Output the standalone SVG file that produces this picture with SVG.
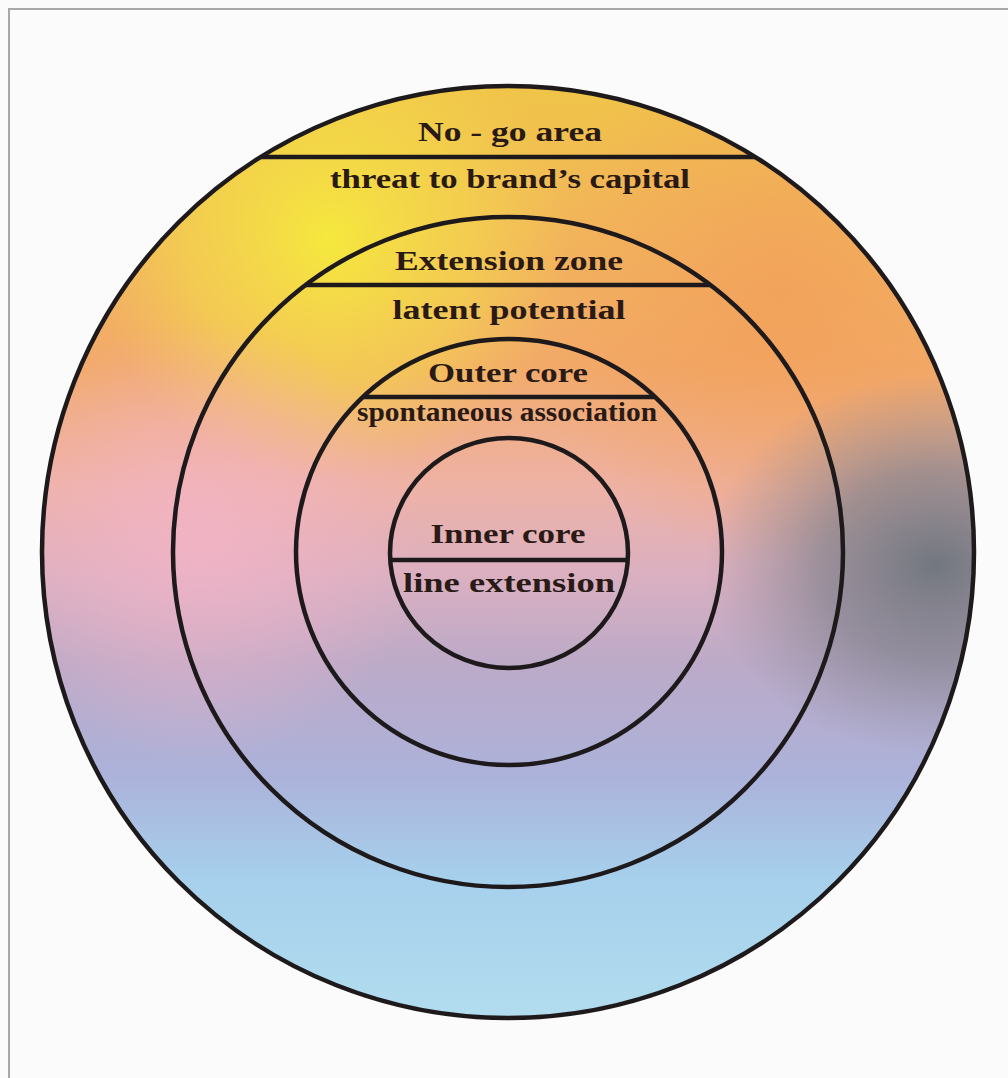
<svg xmlns="http://www.w3.org/2000/svg" width="1008" height="1078" viewBox="0 0 1008 1078">
<style>
.ring{fill:none;stroke:#1e1a1c;stroke-width:4.5}
.chord{stroke:#1e1a1c;stroke-width:4.5;stroke-linecap:butt}
.lbl{font-family:"Liberation Serif","DejaVu Serif",serif;font-weight:bold;font-size:28px;fill:#2a1a16;text-anchor:middle}
</style>
<defs>
<linearGradient id="base" x1="0" y1="86" x2="0" y2="1018" gradientUnits="userSpaceOnUse">
<stop offset="0" stop-color="#f0c448"/>
<stop offset="0.15" stop-color="#f2b85a"/>
<stop offset="0.3" stop-color="#f2aa6a"/>
<stop offset="0.43" stop-color="#eeb2a6"/>
<stop offset="0.52" stop-color="#dcb0c0"/>
<stop offset="0.62" stop-color="#bcaac8"/>
<stop offset="0.74" stop-color="#acb2da"/>
<stop offset="0.85" stop-color="#a6d0ec"/>
<stop offset="1" stop-color="#b2dcee"/>
</linearGradient>
<radialGradient id="yel" cx="330" cy="240" r="240" gradientUnits="userSpaceOnUse">
<stop offset="0" stop-color="#f6ee3a" stop-opacity="0.9"/>
<stop offset="0.6" stop-color="#f4dc48" stop-opacity="0.55"/>
<stop offset="1" stop-color="#f4d050" stop-opacity="0"/>
</radialGradient>
<radialGradient id="pink" cx="200" cy="540" r="220" gradientUnits="userSpaceOnUse">
<stop offset="0" stop-color="#f4b4c8" stop-opacity="0.8"/>
<stop offset="1" stop-color="#f4b4c8" stop-opacity="0"/>
</radialGradient>
<radialGradient id="orn" cx="780" cy="300" r="260" gradientUnits="userSpaceOnUse">
<stop offset="0" stop-color="#f2a05a" stop-opacity="0.85"/>
<stop offset="1" stop-color="#f2a05a" stop-opacity="0"/>
</radialGradient>
<radialGradient id="grey" cx="0" cy="0" r="1" gradientUnits="userSpaceOnUse" gradientTransform="translate(935 565) scale(230 190)">
<stop offset="0" stop-color="#6c747c" stop-opacity="0.95"/>
<stop offset="0.5" stop-color="#7a7e88" stop-opacity="0.65"/>
<stop offset="1" stop-color="#8a8a98" stop-opacity="0"/>
</radialGradient>
<clipPath id="disc"><circle cx="508" cy="552" r="466"/></clipPath>
</defs>
<rect x="0" y="0" width="1008" height="1078" fill="#fbfbfb"/>
<path d="M9 1078 V9 H1008" fill="none" stroke="#a8a8a8" stroke-width="2"/>
<g clip-path="url(#disc)">
<rect x="40" y="84" width="940" height="936" fill="url(#base)"/>
<rect x="40" y="84" width="940" height="936" fill="url(#orn)"/>
<rect x="40" y="84" width="940" height="936" fill="url(#yel)"/>
<rect x="40" y="84" width="940" height="936" fill="url(#pink)"/>
<rect x="40" y="84" width="940" height="936" fill="url(#grey)"/>
</g>
<g id="no-go-area">
<circle class="ring" cx="508" cy="552" r="466"/>
<line class="chord" x1="261" y1="157" x2="755" y2="157"/>
<text class="lbl" x="510" y="141" textLength="184" lengthAdjust="spacingAndGlyphs">No - go area</text>
<text class="lbl" x="510" y="188" textLength="360" lengthAdjust="spacingAndGlyphs">threat to brand’s capital</text>
</g>
<g id="extension-zone">
<circle class="ring" cx="508" cy="552" r="335"/>
<line class="chord" x1="306" y1="285" x2="710" y2="285"/>
<text class="lbl" x="509" y="270" textLength="228" lengthAdjust="spacingAndGlyphs">Extension zone</text>
<text class="lbl" x="509" y="319" textLength="233" lengthAdjust="spacingAndGlyphs">latent potential</text>
</g>
<g id="outer-core">
<circle class="ring" cx="509" cy="552" r="213"/>
<line class="chord" x1="364" y1="397" x2="654" y2="397"/>
<text class="lbl" x="508" y="382" font-size="25" textLength="160" lengthAdjust="spacingAndGlyphs">Outer core</text>
<text class="lbl" x="507" y="421" font-size="25" textLength="300" lengthAdjust="spacingAndGlyphs">spontaneous association</text>
</g>
<g id="inner-core">
<ellipse class="ring" cx="509" cy="553" rx="119" ry="115"/>
<line class="chord" x1="390" y1="560" x2="628" y2="560"/>
<text class="lbl" x="508" y="543" font-size="27" textLength="155" lengthAdjust="spacingAndGlyphs">Inner core</text>
<text class="lbl" x="509" y="592" font-size="27" textLength="212" lengthAdjust="spacingAndGlyphs">line extension</text>
</g>
</svg>
